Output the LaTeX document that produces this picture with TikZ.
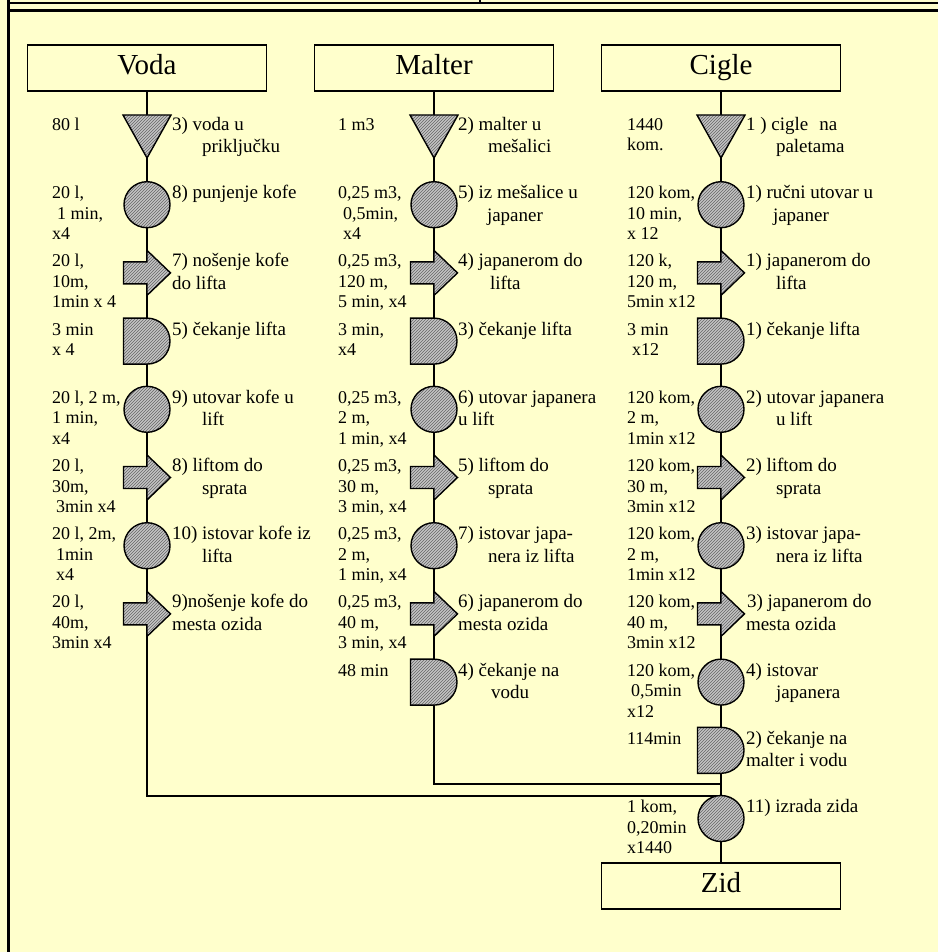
\documentclass[tikz,border=0pt]{standalone}
\usepackage{fontspec}
\setmainfont{Liberation Serif}
\newfontfamily\dgserif{Liberation Serif}
\usetikzlibrary{patterns}
\definecolor{bg}{HTML}{FFFFCC}
\definecolor{symfill}{HTML}{C4C4C4}
\tikzset{
  slot/.style={rectangle, minimum width=47pt, minimum height=46pt, inner sep=0pt, outer sep=0pt},
  symb/.style={draw=black, line width=1.4pt, line join=miter,
     preaction={fill=symfill}, preaction={pattern=north east lines, pattern color=black!60}},
  conn/.style={line width=1.4pt},
  titlebox/.style={draw, line width=1.4pt, minimum width=239pt, minimum height=46pt, inner sep=0pt,
     text height=19pt, text depth=6pt, font=\dgserif\fontsize{29}{32}\selectfont},
  lab/.style={anchor=north west, inner sep=0pt, outer sep=0pt, align=left,
     font=\dgserif\fontsize{18}{20.5}\selectfont, yshift=14.35pt},
  rlab/.style={anchor=north west, inner sep=0pt, outer sep=0pt, align=left,
     font=\dgserif\fontsize{19}{22.5}\selectfont, yshift=15.75pt},
}
\newcommand\dgTri[1]{\draw[symb, shift={(#1.center)}] (-24,21.5) -- (24,21.5) -- (0,-21.5) -- cycle;}
\newcommand\dgOp[1]{\draw[symb] (#1.center) circle[radius=23];}
\newcommand\dgTr[1]{\draw[symb, shift={(#1.center)}] (-23.5,11) -- (0,11) -- (0,22.5) -- (23.5,0) -- (0,-22.5) -- (0,-11) -- (-23.5,-11) -- cycle;}
\newcommand\dgDel[1]{\draw[symb, shift={(#1.center)}] (-23.5,23) -- (0,23) arc[start angle=90,end angle=-90,radius=23] -- (-23.5,-23) -- cycle;}
\begin{document}
\begin{tikzpicture}[x=1pt,y=1pt]
\useasboundingbox (0,0) rectangle (938,-952);
\fill[bg] (0,0) rectangle (938,-952);
% frame
\draw[line width=2.5pt] (8.5,0) -- (8.5,-952);
\draw[line width=2pt] (8.5,-3) -- (938,-3);
\draw[line width=3pt] (8.5,-10.5) -- (938,-10.5);
\draw[line width=2.5pt] (480,0) -- (480,-3);
% title boxes
\node[titlebox] (voda) at (147,-68) {Voda};
\node[titlebox] (malter) at (434,-68) {Malter};
\node[titlebox] (cigle) at (721,-68) {Cigle};
\node[titlebox] (zid) at (721,-886) {Zid};
% symbol slots
\foreach \n/\yy in {1/136.5,2/204.7,3/272.9,4/341.1,5/409.3,6/477.5,7/545.7,8/613.9}{
  \node[slot] (v\n) at (147,-\yy) {};
}
\foreach \n/\yy in {1/136.5,2/204.7,3/272.9,4/341.1,5/409.3,6/477.5,7/545.7,8/613.9,9/682.1}{
  \node[slot] (m\n) at (434,-\yy) {};
}
\foreach \n/\yy in {1/136.5,2/204.7,3/272.9,4/341.1,5/409.3,6/477.5,7/545.7,8/613.9,9/682.1,10/750.3,11/818.5}{
  \node[slot] (c\n) at (721,-\yy) {};
}
\coordinate (jm) at (721,-784);
\coordinate (jv) at (721,-796);
% connectors
\draw[conn] (voda.south) -- (v1.center) -- (v2.center) -- (v3.center) -- (v4.center) -- (v5.center) -- (v6.center) -- (v7.center) -- (v8.center) |- (jv);
\draw[conn] (malter.south) -- (m1.center) -- (m2.center) -- (m3.center) -- (m4.center) -- (m5.center) -- (m6.center) -- (m7.center) -- (m8.center) -- (m9.center) |- (jm);
\draw[conn] (cigle.south) -- (c1.center) -- (c2.center) -- (c3.center) -- (c4.center) -- (c5.center) -- (c6.center) -- (c7.center) -- (c8.center) -- (c9.center) -- (c10.center) -- (c11.center) -- (zid.north);
% symbols
\dgTri{v1}\dgOp{v2}\dgTr{v3}\dgDel{v4}\dgOp{v5}\dgTr{v6}\dgOp{v7}\dgTr{v8}
\dgTri{m1}\dgOp{m2}\dgTr{m3}\dgDel{m4}\dgOp{m5}\dgTr{m6}\dgOp{m7}\dgTr{m8}\dgDel{m9}
\dgTri{c1}\dgOp{c2}\dgTr{c3}\dgDel{c4}\dgOp{c5}\dgTr{c6}\dgOp{c7}\dgTr{c8}\dgOp{c9}\dgDel{c10}\dgOp{c11}
% Voda labels
\node[lab] (vl1) at (52,-130.5) {\strut 80 l};
\node[rlab] (vr1) at (172,-130.5) {\strut 3) voda u\\\hspace*{30pt}priključku};
\node[lab] (vl2) at (52,-198.7) {\strut 20 l,\\\hspace*{5pt}1 min,\\x4};
\node[rlab] (vr2) at (172,-198.7) {\strut 8) punjenje kofe};
\node[lab] (vl3) at (52,-266.9) {\strut 20 l,\\10m,\\1min x 4};
\node[rlab] (vr3) at (172,-266.9) {\strut 7) nošenje kofe\\do lifta};
\node[lab] (vl4) at (52,-335.1) {\strut 3 min\\x 4};
\node[rlab] (vr4) at (172,-335.1) {\strut 5) čekanje lifta};
\node[lab] (vl5) at (52,-403.3) {\strut 20 l, 2 m,\\1 min,\\x4};
\node[rlab] (vr5) at (172,-403.3) {\strut 9) utovar kofe u\\\hspace*{30pt}lift};
\node[lab] (vl6) at (52,-471.5) {\strut 20 l,\\30m,\\\hspace*{4pt}3min x4};
\node[rlab] (vr6) at (172,-471.5) {\strut 8) liftom do\\\hspace*{30pt}sprata};
\node[lab] (vl7) at (52,-539.7) {\strut 20 l, 2m,\\\hspace*{4pt}1min\\\hspace*{4pt}x4};
\node[rlab] (vr7) at (172,-539.7) {\strut 10) istovar kofe iz\\\hspace*{30pt}lifta};
\node[lab] (vl8) at (52,-607.9) {\strut 20 l,\\40m,\\3min x4};
\node[rlab] (vr8) at (172,-607.9) {\strut 9)nošenje kofe do\\mesta ozida};
% Malter labels
\node[lab] (ml1) at (338,-130.5) {\strut 1 m3};
\node[rlab] (mr1) at (458,-130.5) {\strut 2) malter u\\\hspace*{30pt}mešalici};
\node[lab] (ml2) at (338,-198.7) {\strut 0,25 m3,\\\hspace*{5pt}0,5min,\\\hspace*{5pt}x4};
\node[rlab] (mr2) at (458,-198.7) {\strut 5) iz mešalice u\\\hspace*{29pt}japaner};
\node[lab] (ml3) at (338,-266.9) {\strut 0,25 m3,\\120 m,\\5 min, x4};
\node[rlab] (mr3) at (458,-266.9) {\strut 4) japanerom do\\\hspace*{32pt}lifta};
\node[lab] (ml4) at (338,-335.1) {\strut 3 min,\\x4};
\node[rlab] (mr4) at (458,-335.1) {\strut 3) čekanje lifta};
\node[lab] (ml5) at (338,-403.3) {\strut 0,25 m3,\\2 m,\\1 min, x4};
\node[rlab] (mr5) at (458,-403.3) {\strut 6) utovar japanera\\u lift};
\node[lab] (ml6) at (338,-471.5) {\strut 0,25 m3,\\30 m,\\3 min, x4};
\node[rlab] (mr6) at (458,-471.5) {\strut 5) liftom do\\\hspace*{30pt}sprata};
\node[lab] (ml7) at (338,-539.7) {\strut 0,25 m3,\\2 m,\\1 min, x4};
\node[rlab] (mr7) at (458,-539.7) {\strut 7) istovar japa-\\\hspace*{30pt}nera iz lifta};
\node[lab] (ml8) at (338,-607.9) {\strut 0,25 m3,\\40 m,\\3 min, x4};
\node[rlab] (mr8) at (458,-607.9) {\strut 6) japanerom do\\mesta ozida};
\node[lab] (ml9) at (338,-676.1) {\strut 48 min};
\node[rlab] (mr9) at (458,-676.1) {\strut 4) čekanje na\\\hspace*{33pt}vodu};
% Cigle labels
\node[lab] (cl1) at (627,-130.5) {\strut 1440\\kom.};
\node[rlab] (cr1) at (746,-130.5) {\strut 1 ) cigle\hspace{11pt}na\\\hspace*{30pt}paletama};
\node[lab] (cl2) at (627,-198.7) {\strut 120 kom,\\10 min,\\x 12};
\node[rlab] (cr2) at (746,-198.7) {\strut 1) ručni utovar u\\\hspace*{27pt}japaner};
\node[lab] (cl3) at (627,-266.9) {\strut 120 k,\\120 m,\\5min x12};
\node[rlab] (cr3) at (746,-266.9) {\strut 1) japanerom do\\\hspace*{30pt}lifta};
\node[lab] (cl4) at (627,-335.1) {\strut 3 min\\\hspace*{5pt}x12};
\node[rlab] (cr4) at (746,-335.1) {\strut 1) čekanje lifta};
\node[lab] (cl5) at (627,-403.3) {\strut 120 kom,\\2 m,\\1min x12};
\node[rlab] (cr5) at (746,-403.3) {\strut 2) utovar japanera\\\hspace*{30pt}u lift};
\node[lab] (cl6) at (627,-471.5) {\strut 120 kom,\\30 m,\\3min x12};
\node[rlab] (cr6) at (746,-471.5) {\strut 2) liftom do\\\hspace*{30pt}sprata};
\node[lab] (cl7) at (627,-539.7) {\strut 120 kom,\\2 m,\\1min x12};
\node[rlab] (cr7) at (746,-539.7) {\strut 3) istovar japa-\\\hspace*{30pt}nera iz lifta};
\node[lab] (cl8) at (627,-607.9) {\strut 120 kom,\\40 m,\\3min x12};
\node[rlab] (cr8) at (746,-607.9) {\strut\hspace*{1pt}3) japanerom do\\mesta ozida};
\node[lab] (cl9) at (627,-676.1) {\strut 120 kom,\\\hspace*{4pt}0,5min\\x12};
\node[rlab] (cr9) at (746,-676.1) {\strut 4) istovar\\\hspace*{30pt}japanera};
\node[lab] (cl10) at (627,-744.3) {\strut 114min};
\node[rlab] (cr10) at (746,-744.3) {\strut 2) čekanje na\\malter i vodu};
\node[lab] (cl11) at (627,-812.5) {\strut 1 kom,\\0,20min\\x1440};
\node[rlab] (cr11) at (746,-812.5) {\strut 11) izrada zida};
\end{tikzpicture}
\end{document}
